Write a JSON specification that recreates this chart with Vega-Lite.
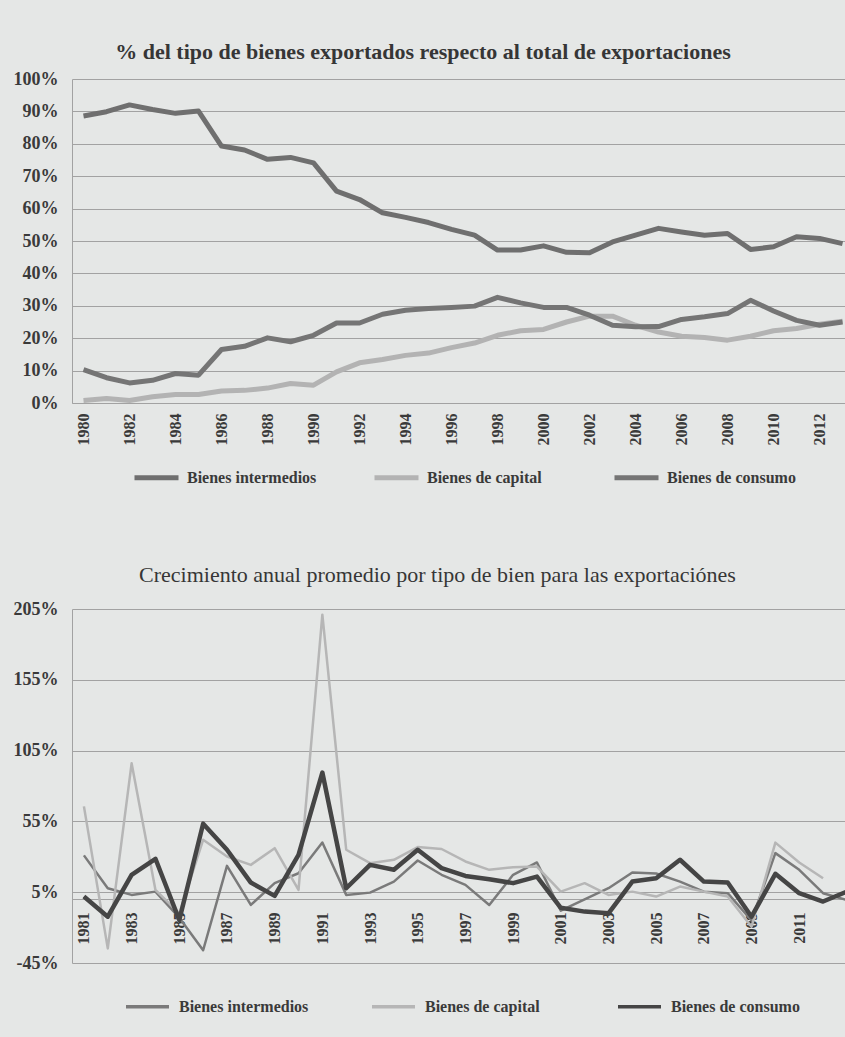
{
  "$schema": "https://vega.github.io/schema/vega-lite/v6.json",
  "background": "#e5e7e6",
  "padding": {"left": 11, "top": 41, "right": 0, "bottom": 75},
  "autosize": {"type": "pad"},
  "spacing": 76,
  "resolve": {
    "scale": {"color": "independent"},
    "legend": {"color": "independent"}
  },
  "config": {
    "font": "Liberation Serif",
    "view": {"stroke": null},
    "axis": {
      "labelFont": "Liberation Serif",
      "labelColor": "#3a3a3a",
      "domainColor": "#a2a2a2",
      "gridColor": "#a2a2a2",
      "gridWidth": 1,
      "ticks": false,
      "title": null
    },
    "legend": {
      "labelFont": "Liberation Serif",
      "labelColor": "#3a3a3a",
      "title": null
    },
    "title": {"font": "Liberation Serif", "color": "#363636"}
  },
  "datasets": {
    "participacion": [
      {"anio": 1980, "serie": "Bienes intermedios", "valor": 88.6}, {"anio": 1980, "serie": "Bienes de capital", "valor": 0.8}, {"anio": 1980, "serie": "Bienes de consumo", "valor": 10.3},
      {"anio": 1981, "serie": "Bienes intermedios", "valor": 89.9}, {"anio": 1981, "serie": "Bienes de capital", "valor": 1.4}, {"anio": 1981, "serie": "Bienes de consumo", "valor": 7.8},
      {"anio": 1982, "serie": "Bienes intermedios", "valor": 92.0}, {"anio": 1982, "serie": "Bienes de capital", "valor": 0.8}, {"anio": 1982, "serie": "Bienes de consumo", "valor": 6.2},
      {"anio": 1983, "serie": "Bienes intermedios", "valor": 90.6}, {"anio": 1983, "serie": "Bienes de capital", "valor": 1.9}, {"anio": 1983, "serie": "Bienes de consumo", "valor": 7.0},
      {"anio": 1984, "serie": "Bienes intermedios", "valor": 89.4}, {"anio": 1984, "serie": "Bienes de capital", "valor": 2.6}, {"anio": 1984, "serie": "Bienes de consumo", "valor": 9.1},
      {"anio": 1985, "serie": "Bienes intermedios", "valor": 90.1}, {"anio": 1985, "serie": "Bienes de capital", "valor": 2.6}, {"anio": 1985, "serie": "Bienes de consumo", "valor": 8.6},
      {"anio": 1986, "serie": "Bienes intermedios", "valor": 79.3}, {"anio": 1986, "serie": "Bienes de capital", "valor": 3.7}, {"anio": 1986, "serie": "Bienes de consumo", "valor": 16.5},
      {"anio": 1987, "serie": "Bienes intermedios", "valor": 78.1}, {"anio": 1987, "serie": "Bienes de capital", "valor": 3.9}, {"anio": 1987, "serie": "Bienes de consumo", "valor": 17.5},
      {"anio": 1988, "serie": "Bienes intermedios", "valor": 75.2}, {"anio": 1988, "serie": "Bienes de capital", "valor": 4.6}, {"anio": 1988, "serie": "Bienes de consumo", "valor": 20.1},
      {"anio": 1989, "serie": "Bienes intermedios", "valor": 75.8}, {"anio": 1989, "serie": "Bienes de capital", "valor": 6.0}, {"anio": 1989, "serie": "Bienes de consumo", "valor": 18.9},
      {"anio": 1990, "serie": "Bienes intermedios", "valor": 74.1}, {"anio": 1990, "serie": "Bienes de capital", "valor": 5.5}, {"anio": 1990, "serie": "Bienes de consumo", "valor": 20.9},
      {"anio": 1991, "serie": "Bienes intermedios", "valor": 65.4}, {"anio": 1991, "serie": "Bienes de capital", "valor": 9.6}, {"anio": 1991, "serie": "Bienes de consumo", "valor": 24.7},
      {"anio": 1992, "serie": "Bienes intermedios", "valor": 62.8}, {"anio": 1992, "serie": "Bienes de capital", "valor": 12.4}, {"anio": 1992, "serie": "Bienes de consumo", "valor": 24.7},
      {"anio": 1993, "serie": "Bienes intermedios", "valor": 58.7}, {"anio": 1993, "serie": "Bienes de capital", "valor": 13.4}, {"anio": 1993, "serie": "Bienes de consumo", "valor": 27.4},
      {"anio": 1994, "serie": "Bienes intermedios", "valor": 57.3}, {"anio": 1994, "serie": "Bienes de capital", "valor": 14.7}, {"anio": 1994, "serie": "Bienes de consumo", "valor": 28.6},
      {"anio": 1995, "serie": "Bienes intermedios", "valor": 55.7}, {"anio": 1995, "serie": "Bienes de capital", "valor": 15.4}, {"anio": 1995, "serie": "Bienes de consumo", "valor": 29.2},
      {"anio": 1996, "serie": "Bienes intermedios", "valor": 53.6}, {"anio": 1996, "serie": "Bienes de capital", "valor": 17.1}, {"anio": 1996, "serie": "Bienes de consumo", "valor": 29.5},
      {"anio": 1997, "serie": "Bienes intermedios", "valor": 51.8}, {"anio": 1997, "serie": "Bienes de capital", "valor": 18.5}, {"anio": 1997, "serie": "Bienes de consumo", "valor": 29.9},
      {"anio": 1998, "serie": "Bienes intermedios", "valor": 47.2}, {"anio": 1998, "serie": "Bienes de capital", "valor": 20.9}, {"anio": 1998, "serie": "Bienes de consumo", "valor": 32.6},
      {"anio": 1999, "serie": "Bienes intermedios", "valor": 47.2}, {"anio": 1999, "serie": "Bienes de capital", "valor": 22.3}, {"anio": 1999, "serie": "Bienes de consumo", "valor": 30.9},
      {"anio": 2000, "serie": "Bienes intermedios", "valor": 48.5}, {"anio": 2000, "serie": "Bienes de capital", "valor": 22.7}, {"anio": 2000, "serie": "Bienes de consumo", "valor": 29.5},
      {"anio": 2001, "serie": "Bienes intermedios", "valor": 46.5}, {"anio": 2001, "serie": "Bienes de capital", "valor": 25.0}, {"anio": 2001, "serie": "Bienes de consumo", "valor": 29.5},
      {"anio": 2002, "serie": "Bienes intermedios", "valor": 46.4}, {"anio": 2002, "serie": "Bienes de capital", "valor": 26.8}, {"anio": 2002, "serie": "Bienes de consumo", "valor": 27.1},
      {"anio": 2003, "serie": "Bienes intermedios", "valor": 49.7}, {"anio": 2003, "serie": "Bienes de capital", "valor": 26.8}, {"anio": 2003, "serie": "Bienes de consumo", "valor": 24.0},
      {"anio": 2004, "serie": "Bienes intermedios", "valor": 51.8}, {"anio": 2004, "serie": "Bienes de capital", "valor": 24.0}, {"anio": 2004, "serie": "Bienes de consumo", "valor": 23.5},
      {"anio": 2005, "serie": "Bienes intermedios", "valor": 53.9}, {"anio": 2005, "serie": "Bienes de capital", "valor": 21.9}, {"anio": 2005, "serie": "Bienes de consumo", "valor": 23.6},
      {"anio": 2006, "serie": "Bienes intermedios", "valor": 52.8}, {"anio": 2006, "serie": "Bienes de capital", "valor": 20.6}, {"anio": 2006, "serie": "Bienes de consumo", "valor": 25.8},
      {"anio": 2007, "serie": "Bienes intermedios", "valor": 51.8}, {"anio": 2007, "serie": "Bienes de capital", "valor": 20.2}, {"anio": 2007, "serie": "Bienes de consumo", "valor": 26.6},
      {"anio": 2008, "serie": "Bienes intermedios", "valor": 52.3}, {"anio": 2008, "serie": "Bienes de capital", "valor": 19.4}, {"anio": 2008, "serie": "Bienes de consumo", "valor": 27.6},
      {"anio": 2009, "serie": "Bienes intermedios", "valor": 47.4}, {"anio": 2009, "serie": "Bienes de capital", "valor": 20.6}, {"anio": 2009, "serie": "Bienes de consumo", "valor": 31.7},
      {"anio": 2010, "serie": "Bienes intermedios", "valor": 48.2}, {"anio": 2010, "serie": "Bienes de capital", "valor": 22.3}, {"anio": 2010, "serie": "Bienes de consumo", "valor": 28.4},
      {"anio": 2011, "serie": "Bienes intermedios", "valor": 51.3}, {"anio": 2011, "serie": "Bienes de capital", "valor": 23.0}, {"anio": 2011, "serie": "Bienes de consumo", "valor": 25.5},
      {"anio": 2012, "serie": "Bienes intermedios", "valor": 50.8}, {"anio": 2012, "serie": "Bienes de capital", "valor": 24.3}, {"anio": 2012, "serie": "Bienes de consumo", "valor": 24.0},
      {"anio": 2013, "serie": "Bienes intermedios", "valor": 49.2}, {"anio": 2013, "serie": "Bienes de capital", "valor": 25.2}, {"anio": 2013, "serie": "Bienes de consumo", "valor": 25.0}
    ],
    "crecimiento": [
      {"anio": 1981, "serie": "Bienes intermedios", "valor": 31}, {"anio": 1981, "serie": "Bienes de capital", "valor": 65.6}, {"anio": 1981, "serie": "Bienes de consumo", "valor": 1.9},
      {"anio": 1982, "serie": "Bienes intermedios", "valor": 7.8}, {"anio": 1982, "serie": "Bienes de capital", "valor": -34.7}, {"anio": 1982, "serie": "Bienes de consumo", "valor": -12.3},
      {"anio": 1983, "serie": "Bienes intermedios", "valor": 3.1}, {"anio": 1983, "serie": "Bienes de capital", "valor": 96}, {"anio": 1983, "serie": "Bienes de consumo", "valor": 17.3},
      {"anio": 1984, "serie": "Bienes intermedios", "valor": 5.4}, {"anio": 1984, "serie": "Bienes de capital", "valor": 6.6}, {"anio": 1984, "serie": "Bienes de consumo", "valor": 28.6},
      {"anio": 1985, "serie": "Bienes intermedios", "valor": -13}, {"anio": 1985, "serie": "Bienes de capital", "valor": -10}, {"anio": 1985, "serie": "Bienes de consumo", "valor": -14.6},
      {"anio": 1986, "serie": "Bienes intermedios", "valor": -36}, {"anio": 1986, "serie": "Bienes de capital", "valor": 42}, {"anio": 1986, "serie": "Bienes de consumo", "valor": 53.4},
      {"anio": 1987, "serie": "Bienes intermedios", "valor": 23.6}, {"anio": 1987, "serie": "Bienes de capital", "valor": 30.2}, {"anio": 1987, "serie": "Bienes de consumo", "valor": 35},
      {"anio": 1988, "serie": "Bienes intermedios", "valor": -4}, {"anio": 1988, "serie": "Bienes de capital", "valor": 24.3}, {"anio": 1988, "serie": "Bienes de consumo", "valor": 11.8},
      {"anio": 1989, "serie": "Bienes intermedios", "valor": 11.4}, {"anio": 1989, "serie": "Bienes de capital", "valor": 36.1}, {"anio": 1989, "serie": "Bienes de consumo", "valor": 2.4},
      {"anio": 1990, "serie": "Bienes intermedios", "valor": 18.4}, {"anio": 1990, "serie": "Bienes de capital", "valor": 6.6}, {"anio": 1990, "serie": "Bienes de consumo", "valor": 31.4},
      {"anio": 1991, "serie": "Bienes intermedios", "valor": 40.1}, {"anio": 1991, "serie": "Bienes de capital", "valor": 201}, {"anio": 1991, "serie": "Bienes de consumo", "valor": 89.5},
      {"anio": 1992, "serie": "Bienes intermedios", "valor": 3.1}, {"anio": 1992, "serie": "Bienes de capital", "valor": 35}, {"anio": 1992, "serie": "Bienes de consumo", "valor": 7.8},
      {"anio": 1993, "serie": "Bienes intermedios", "valor": 4.7}, {"anio": 1993, "serie": "Bienes de capital", "valor": 25.5}, {"anio": 1993, "serie": "Bienes de consumo", "valor": 24.3},
      {"anio": 1994, "serie": "Bienes intermedios", "valor": 12.5}, {"anio": 1994, "serie": "Bienes de capital", "valor": 27.9}, {"anio": 1994, "serie": "Bienes de consumo", "valor": 20.8},
      {"anio": 1995, "serie": "Bienes intermedios", "valor": 27.4}, {"anio": 1995, "serie": "Bienes de capital", "valor": 36.9}, {"anio": 1995, "serie": "Bienes de consumo", "valor": 35},
      {"anio": 1996, "serie": "Bienes intermedios", "valor": 17.3}, {"anio": 1996, "serie": "Bienes de capital", "valor": 35.5}, {"anio": 1996, "serie": "Bienes de consumo", "valor": 22},
      {"anio": 1997, "serie": "Bienes intermedios", "valor": 10.2}, {"anio": 1997, "serie": "Bienes de capital", "valor": 26.7}, {"anio": 1997, "serie": "Bienes de consumo", "valor": 16.5},
      {"anio": 1998, "serie": "Bienes intermedios", "valor": -4}, {"anio": 1998, "serie": "Bienes de capital", "valor": 20.8}, {"anio": 1998, "serie": "Bienes de consumo", "valor": 14.2},
      {"anio": 1999, "serie": "Bienes intermedios", "valor": 17.3}, {"anio": 1999, "serie": "Bienes de capital", "valor": 22.7}, {"anio": 1999, "serie": "Bienes de consumo", "valor": 11.4},
      {"anio": 2000, "serie": "Bienes intermedios", "valor": 26}, {"anio": 2000, "serie": "Bienes de capital", "valor": 23.1}, {"anio": 2000, "serie": "Bienes de consumo", "valor": 16},
      {"anio": 2001, "serie": "Bienes intermedios", "valor": -8}, {"anio": 2001, "serie": "Bienes de capital", "valor": 5.4}, {"anio": 2001, "serie": "Bienes de consumo", "valor": -6},
      {"anio": 2002, "serie": "Bienes intermedios", "valor": 0}, {"anio": 2002, "serie": "Bienes de capital", "valor": 11.4}, {"anio": 2002, "serie": "Bienes de consumo", "valor": -8.7},
      {"anio": 2003, "serie": "Bienes intermedios", "valor": 7.8}, {"anio": 2003, "serie": "Bienes de capital", "valor": 3.1}, {"anio": 2003, "serie": "Bienes de consumo", "valor": -9.9},
      {"anio": 2004, "serie": "Bienes intermedios", "valor": 18.9}, {"anio": 2004, "serie": "Bienes de capital", "valor": 5.4}, {"anio": 2004, "serie": "Bienes de consumo", "valor": 12.5},
      {"anio": 2005, "serie": "Bienes intermedios", "valor": 18.2}, {"anio": 2005, "serie": "Bienes de capital", "valor": 1.9}, {"anio": 2005, "serie": "Bienes de consumo", "valor": 14.9},
      {"anio": 2006, "serie": "Bienes intermedios", "valor": 12.5}, {"anio": 2006, "serie": "Bienes de capital", "valor": 9}, {"anio": 2006, "serie": "Bienes de consumo", "valor": 27.9},
      {"anio": 2007, "serie": "Bienes intermedios", "valor": 5.4}, {"anio": 2007, "serie": "Bienes de capital", "valor": 5.4}, {"anio": 2007, "serie": "Bienes de consumo", "valor": 12.5},
      {"anio": 2008, "serie": "Bienes intermedios", "valor": 4.3}, {"anio": 2008, "serie": "Bienes de capital", "valor": 1.9}, {"anio": 2008, "serie": "Bienes de consumo", "valor": 11.8},
      {"anio": 2009, "serie": "Bienes intermedios", "valor": -15}, {"anio": 2009, "serie": "Bienes de capital", "valor": -19.4}, {"anio": 2009, "serie": "Bienes de consumo", "valor": -12.3},
      {"anio": 2010, "serie": "Bienes intermedios", "valor": 32.6}, {"anio": 2010, "serie": "Bienes de capital", "valor": 40}, {"anio": 2010, "serie": "Bienes de consumo", "valor": 18},
      {"anio": 2011, "serie": "Bienes intermedios", "valor": 20.8}, {"anio": 2011, "serie": "Bienes de capital", "valor": 26}, {"anio": 2011, "serie": "Bienes de consumo", "valor": 4.3},
      {"anio": 2012, "serie": "Bienes intermedios", "valor": 4.3}, {"anio": 2012, "serie": "Bienes de capital", "valor": 14.9}, {"anio": 2012, "serie": "Bienes de consumo", "valor": -1.6},
      {"anio": 2013, "serie": "Bienes intermedios", "valor": -0.5}, {"anio": 2013, "serie": "Bienes de consumo", "valor": 5.4}
    ]
  },
  "vconcat": [
    {
      "width": 774,
      "height": 324,
      "title": {
        "text": "% del tipo de bienes exportados respecto al total de exportaciones",
        "fontSize": 22,
        "fontWeight": "bold",
        "anchor": "middle",
        "dx": -36,
        "offset": 6
      },
      "data": {"name": "participacion"},
      "mark": {"type": "line", "strokeWidth": 5, "clip": true, "strokeJoin": "round"},
      "encoding": {
        "x": {
          "field": "anio",
          "type": "quantitative",
          "scale": {"domain": [1979.5, 2013.15], "nice": false, "zero": false},
          "axis": {
            "values": [1980, 1982, 1984, 1986, 1988, 1990, 1992, 1994, 1996, 1998, 2000, 2002, 2004, 2006, 2008, 2010, 2012],
            "format": "d",
            "labelAngle": -90,
            "labelFontSize": 16,
            "labelFontWeight": "bold",
            "labelPadding": 10,
            "labelFlush": false,
            "grid": false,
            "domain": true
          }
        },
        "y": {
          "field": "valor",
          "type": "quantitative",
          "scale": {"domain": [0, 100], "nice": false},
          "axis": {
            "values": [0, 10, 20, 30, 40, 50, 60, 70, 80, 90, 100],
            "labelExpr": "datum.value + '%'",
            "labelFontSize": 18,
            "labelFontWeight": "bold",
            "labelPadding": 14,
            "minExtent": 60,
            "maxExtent": 60,
            "grid": true,
            "domain": true
          }
        },
        "color": {
          "field": "serie",
          "type": "nominal",
          "scale": {
            "domain": ["Bienes intermedios", "Bienes de capital", "Bienes de consumo"],
            "range": ["#6f6f6f", "#b3b3b3", "#757575"]
          },
          "legend": {
            "orient": "none",
            "legendX": 60,
            "legendY": 374,
            "direction": "horizontal",
            "columns": 3,
            "gridAlign": "all",
            "columnPadding": 47,
            "symbolType": "stroke",
            "symbolSize": 1936,
            "symbolStrokeWidth": 5,
            "labelOffset": 6,
            "labelFontSize": 16,
            "labelFontWeight": "bold",
            "labelLimit": 300
          }
        }
      }
    },
    {
      "width": 773,
      "height": 354,
      "title": {
        "text": "Crecimiento anual promedio por tipo de bien para las exportaciónes",
        "fontSize": 22,
        "fontWeight": "normal",
        "anchor": "middle",
        "dx": -21,
        "offset": 13
      },
      "data": {"name": "crecimiento"},
      "encoding": {
        "x": {
          "field": "anio",
          "type": "quantitative",
          "scale": {"domain": [1980.5, 2012.92], "nice": false, "zero": false},
          "axis": {
            "values": [1981, 1983, 1985, 1987, 1989, 1991, 1993, 1995, 1997, 1999, 2001, 2003, 2005, 2007, 2009, 2011],
            "format": "d",
            "labelAngle": -90,
            "labelFontSize": 16,
            "labelFontWeight": "bold",
            "labelPadding": 13,
            "labelFlush": false,
            "grid": false,
            "domain": true,
            "offset": -64
          }
        },
        "y": {
          "field": "valor",
          "type": "quantitative",
          "scale": {"domain": [-45, 205], "nice": false, "zero": false},
          "axis": {
            "values": [-45, 5, 55, 105, 155, 205],
            "labelExpr": "datum.value + '%'",
            "labelFontSize": 18,
            "labelFontWeight": "bold",
            "labelPadding": 14,
            "minExtent": 61,
            "maxExtent": 61,
            "grid": true,
            "domain": true
          }
        }
      },
      "layer": [
        {
          "mark": {"type": "line", "clip": true, "strokeWidth": 2.5, "strokeJoin": "round"},
          "encoding": {
            "color": {
              "field": "serie",
              "type": "nominal",
              "scale": {
                "domain": ["Bienes intermedios", "Bienes de capital", "Bienes de consumo"],
                "range": ["#7a7a7a", "#b6b6b6", "#454545"]
              },
              "legend": {
                "orient": "none",
                "legendX": 52,
                "legendY": 374,
                "direction": "horizontal",
                "columns": 3,
                "gridAlign": "all",
                "columnPadding": 56,
                "symbolType": "stroke",
                "symbolSize": 1849,
                "symbolStrokeWidth": 3.5,
                "labelOffset": 8,
                "labelFontSize": 16,
                "labelFontWeight": "bold",
                "labelLimit": 300
              }
            }
          }
        },
        {
          "transform": [{"filter": "datum.serie === 'Bienes de consumo'"}],
          "mark": {"type": "line", "clip": true, "strokeWidth": 4.5, "strokeJoin": "round", "color": "#454545"},
          "encoding": {}
        }
      ]
    }
  ]
}
